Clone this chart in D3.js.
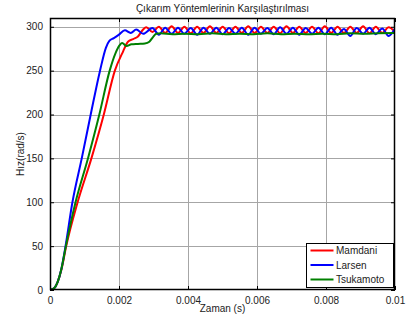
<!DOCTYPE html>
<html>
<head>
<meta charset="utf-8">
<script src="https://cdn.jsdelivr.net/npm/d3@7"></script>
<style>
  body { margin: 0; background: #fff; }
  text { font-family: "Liberation Sans", Arial, sans-serif; }
</style>
</head>
<body>
<div id="chart"></div>
<script>
'use strict';
// time in ms, speed in rad/s
const mamdani = [
  [0, 0], [0.12, 2], [0.22, 9], [0.33, 23], [0.47, 50], [0.8, 100], [1.2, 150], [1.56, 200],
  [1.88, 250], [2.12, 272], [2.26, 283], [2.41, 286], [2.55, 289], [2.7, 297], [2.79, 299.5],
  [2.97, 294], [3.155, 300], [3.34, 293], [3.525, 300.5], [3.71, 293], [3.895, 300], [4.08, 292.5],
  [4.265, 300], [4.45, 293], [4.635, 300.5], [4.82, 293], [5.005, 300], [5.19, 292.5], [5.375, 300],
  [5.56, 293], [5.745, 300.5], [5.93, 293], [6.115, 300], [6.3, 293], [6.485, 300], [6.67, 292.5],
  [6.855, 300.5], [7.04, 293], [7.225, 300], [7.41, 293], [7.595, 300], [7.78, 292.5], [7.965, 300.5],
  [8.15, 293], [8.335, 300], [8.52, 293], [8.705, 300], [8.89, 293], [9.075, 300.5], [9.26, 292.5],
  [9.445, 300], [9.63, 293], [9.815, 299.5], [10, 294]
];
const larsen = [
  [0, 0], [0.12, 2], [0.22, 9], [0.33, 24], [0.45, 50], [0.65, 100], [0.92, 150], [1.18, 200],
  [1.45, 250], [1.62, 276], [1.72, 284], [1.85, 287], [2.0, 291], [2.17, 296], [2.34, 293],
  [2.5, 297], [2.7, 292], [2.97, 298.5], [3.155, 291], [3.34, 299], [3.525, 292], [3.71, 299],
  [3.895, 292], [4.08, 298.5], [4.265, 291], [4.45, 299], [4.635, 292], [4.82, 299], [5.005, 291.5],
  [5.19, 298.5], [5.375, 292], [5.56, 299], [5.745, 291], [5.93, 299], [6.115, 292], [6.3, 298.5],
  [6.485, 291.5], [6.67, 299.5], [6.855, 292], [7.04, 299], [7.225, 291], [7.41, 298.5], [7.595, 292],
  [7.78, 299], [7.965, 291.5], [8.15, 299], [8.335, 291], [8.52, 297.5], [8.705, 289.5], [8.89, 298.5],
  [9.075, 292], [9.26, 299], [9.445, 291.5], [9.63, 298], [9.815, 289.5], [10, 298]
];
const tsukamoto = [
  [0, 0], [0.12, 2], [0.22, 9], [0.33, 24], [0.46, 50], [0.74, 100], [1.1, 150], [1.43, 200],
  [1.73, 250], [1.9, 270], [2.02, 279], [2.09, 281.5], [2.22, 278], [2.36, 280], [2.55, 280.5],
  [2.75, 281], [2.88, 283], [2.98, 288], [3.08, 292], [3.2, 292.5], [3.55, 291.5], [3.9, 292],
  [4.3, 291.5], [4.7, 292.5], [5.1, 291.5], [5.5, 292], [5.9, 291.5], [6.3, 292.5], [6.7, 291.5],
  [7.1, 292], [7.5, 291.5], [7.9, 292], [8.3, 291.5], [8.7, 292.5], [9.1, 292], [9.5, 292.5], [10, 293]
];
const seriesNames = ["Mamdani", "Larsen", "Tsukamoto"];
const seriesColors = ["#ff0000", "#0000ff", "#008000"];
const xTicks = [0, 0.002, 0.004, 0.006, 0.008, 0.01];
const xTickLabels = ["0", "0.002", "0.004", "0.006", "0.008", "0.01"];
const yTicks = [0, 50, 100, 150, 200, 250, 300];

const width = 406, height = 320;
const margin = { left: 50, right: 11, top: 18, bottom: 30 };
const svg = d3.select("#chart").append("svg")
  .attr("width", width).attr("height", height);

const x = d3.scaleLinear().domain([0, 0.01]).range([margin.left, width - margin.right]);
const y = d3.scaleLinear().domain([0, 310]).range([height - margin.bottom, margin.top]);

svg.append("defs").append("clipPath").attr("id", "plotclip")
  .append("rect")
  .attr("x", margin.left).attr("y", margin.top)
  .attr("width", x.range()[1] - margin.left)
  .attr("height", y.range()[0] - margin.top);

// grid
let grid = svg.append("g").attr("stroke", "#a6a6a6").attr("stroke-width", 1);
xTicks.slice(1, -1).forEach(function (t) {
  grid.append("line")
    .attr("x1", Math.round(x(t)) + 0.5).attr("x2", Math.round(x(t)) + 0.5)
    .attr("y1", y.range()[1]).attr("y2", y.range()[0]);
});
yTicks.slice(1).forEach(function (v) {
  grid.append("line")
    .attr("x1", x.range()[0]).attr("x2", x.range()[1])
    .attr("y1", Math.round(y(v)) + 0.5).attr("y2", Math.round(y(v)) + 0.5);
});

// lines
let line = d3.line()
  .x(function (d) { return x(d[0] / 1000); })
  .y(function (d) { return y(d[1]); })
  .curve(d3.curveMonotoneX);
let plots = svg.append("g").attr("clip-path", "url(#plotclip)");
[mamdani, larsen, tsukamoto].forEach(function (s, i) {
  plots.append("path")
    .attr("d", line(s))
    .attr("fill", "none")
    .attr("stroke", seriesColors[i])
    .attr("stroke-width", 2)
    .attr("stroke-linejoin", "round");
});

// axes (ticks inward on all sides)
let tickLen = 4;
let xAxisB = d3.axisBottom(x).tickValues(xTicks)
  .tickFormat(function (d, i) { return xTickLabels[i]; })
  .tickSizeInner(-tickLen).tickSizeOuter(0).tickPadding(7);
let xAxisT = d3.axisTop(x).tickValues(xTicks).tickFormat("")
  .tickSizeInner(-tickLen).tickSizeOuter(0);
let yAxisL = d3.axisLeft(y).tickValues(yTicks)
  .tickSizeInner(-tickLen).tickSizeOuter(0).tickPadding(7);
let yAxisR = d3.axisRight(y).tickValues(yTicks).tickFormat("")
  .tickSizeInner(-tickLen).tickSizeOuter(0);

svg.append("g").attr("transform", "translate(0," + y.range()[0] + ")").call(xAxisB);
svg.append("g").attr("transform", "translate(0," + y.range()[1] + ")").call(xAxisT);
svg.append("g").attr("transform", "translate(" + x.range()[0] + ",0)").call(yAxisL);
svg.append("g").attr("transform", "translate(" + x.range()[1] + ",0)").call(yAxisR);
svg.selectAll(".domain").remove();
svg.selectAll(".tick line").attr("stroke", "#000");
svg.selectAll(".tick text").attr("font-size", "10px")
  .attr("font-family", "Liberation Sans, Arial, sans-serif").attr("fill", "#222");

// box
svg.append("rect")
  .attr("x", x.range()[0] + 0.5).attr("y", y.range()[1] + 0.5)
  .attr("width", x.range()[1] - x.range()[0] - 1)
  .attr("height", y.range()[0] - y.range()[1] - 1)
  .attr("fill", "none").attr("stroke", "#000").attr("stroke-width", 1.5);

// titles
svg.append("text")
  .attr("x", (x.range()[0] + x.range()[1]) / 2).attr("y", 11.5)
  .attr("text-anchor", "middle").attr("font-size", "10px").attr("fill", "#222")
  .text("Çıkarım Yöntemlerinin Karşılaştırılması");
svg.append("text")
  .attr("x", (x.range()[0] + x.range()[1]) / 2).attr("y", 312)
  .attr("text-anchor", "middle").attr("font-size", "10px").attr("fill", "#222")
  .text("Zaman (s)");
svg.append("text")
  .attr("transform", "translate(24," + (y.range()[0] + y.range()[1]) / 2 + ") rotate(-90)")
  .attr("text-anchor", "middle").attr("font-size", "10px").attr("fill", "#222")
  .text("Hız(rad/s)");

// legend
let legend = svg.append("g").attr("transform", "translate(306.5,243.5)");
legend.append("rect")
  .attr("width", 87).attr("height", 44)
  .attr("fill", "#fff").attr("stroke", "#000").attr("stroke-width", 1);
seriesNames.forEach(function (name, i) {
  let ly = 7 + i * 14.5;
  legend.append("line")
    .attr("x1", 4).attr("x2", 27).attr("y1", ly).attr("y2", ly)
    .attr("stroke", seriesColors[i]).attr("stroke-width", 2);
  legend.append("text")
    .attr("x", 29.5).attr("y", ly + 3.5)
    .attr("font-size", "10px").attr("fill", "#222")
    .text(name);
});
</script>
</body>
</html>
